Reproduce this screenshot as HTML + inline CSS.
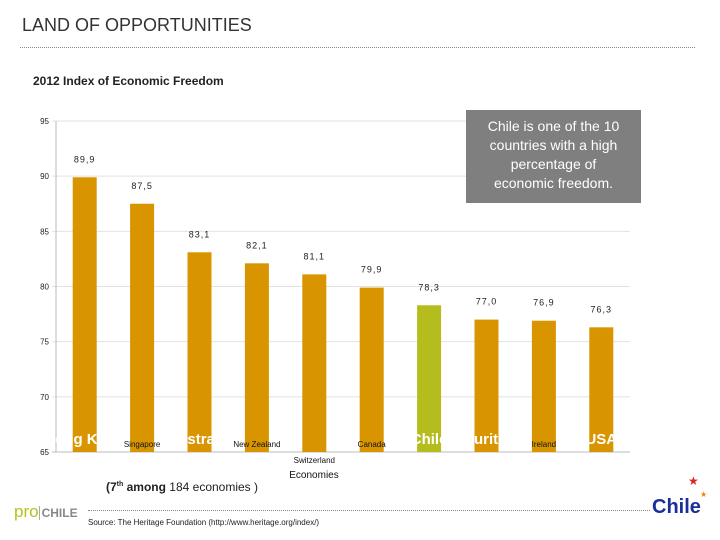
<!DOCTYPE html>
<html><head><meta charset="utf-8">
<style>
body{margin:0;background:#fff;}
#wrap{position:relative;width:720px;height:540px;overflow:hidden;font-family:"Liberation Sans",sans-serif;}
</style></head>
<body>
<div id="wrap">
<div style="position:absolute;left:22px;top:15px;font-size:18px;color:#333;">LAND OF OPPORTUNITIES</div>
<div style="position:absolute;left:20px;top:47px;width:675px;border-top:1px dotted #888;"></div>
<div style="position:absolute;left:33px;top:74px;font-size:12px;font-weight:bold;color:#222;">2012 Index of Economic Freedom</div>
<svg id="chart" width="720" height="540" style="position:absolute;left:0;top:0;"></svg>
<div style="position:absolute;left:466px;top:110px;width:175px;height:93px;background:#7f7f7f;color:#fff;font-size:14px;line-height:19px;text-align:center;padding-top:7px;box-sizing:border-box;">Chile is one of the 10<br>countries with a high<br>percentage of<br>economic freedom.</div>
<div style="position:absolute;left:106px;top:480px;font-size:12px;color:#222;"><b>(7<sup style="font-size:7px">th</sup> among</b> 184 economies )</div>
<div style="position:absolute;left:14px;top:502px;font-size:17px;"><span style="color:#b5c21a">pro</span><span style="color:#888;font-size:12px;font-weight:bold;border-left:1px solid #aaa;padding-left:2px">CHILE</span></div>
<div style="position:absolute;left:88px;top:510px;width:562px;border-top:1px dotted #888;"></div>
<div style="position:absolute;left:88px;top:518px;font-size:8px;color:#222;">Source:  The Heritage Foundation (http://www.heritage.org/index/)</div>
<div style="position:absolute;left:652px;top:496px;font-size:20px;font-weight:bold;color:#1a2f9a;">Chile</div>
<div style="position:absolute;left:688px;top:474px;font-size:12px;color:#d22;">★</div>
<div style="position:absolute;left:700px;top:490px;font-size:8px;color:#e80;">★</div>
</div>
<script>
const categories=["Hong Kong","Singapore","Australia","New Zealand","Switzerland","Canada","Chile","Mauritius","Ireland","USA"];
const values=[89.9,87.5,83.1,82.1,81.1,79.9,78.3,77.0,76.9,76.3];
const labels=["89,9","87,5","83,1","82,1","81,1","79,9","78,3","77,0","76,9","76,3"];
const yTicks=[65,70,75,80,85,90,95];
const bigWhite=[true,false,true,false,false,false,true,true,false,true];
const NS="http://www.w3.org/2000/svg";
const svg=document.getElementById('chart');
const x0=56,x1=630,yTop=121,yBot=452,vMin=65,vMax=95;
const bw=(x1-x0)/categories.length;
function y(v){return yBot-(v-vMin)/(vMax-vMin)*(yBot-yTop);}
function xc(i){return x0+bw*(i+0.5);}
function mk(t,a){const e=document.createElementNS(NS,t);for(const k in a)e.setAttribute(k,a[k]);svg.appendChild(e);return e;}
yTicks.forEach(t=>{
 const g=mk('line',{x1:x0-4,x2:x1,y1:y(t),y2:y(t),stroke:t===65?'#bbb':'#e2e2e2'});
 
 
 const tx=mk('text',{x:x0-7,y:y(t)+3,'text-anchor':'end','font-size':8,fill:'#222'});
 tx.textContent=t;
 
 
});
const ax=mk('line',{x1:x0,x2:x0,y1:yTop,y2:yBot,stroke:'#bbb'});


categories.forEach((c,i)=>{
 const r=mk('rect',{x:xc(i)-12,y:y(values[i]),width:24,height:yBot-y(values[i]),fill:c==='Chile'?'#b5bd1e':'#d99500'});
 
 
 const l=mk('text',{x:xc(i),y:y(values[i])-15,'text-anchor':'middle','font-size':9,fill:'#222','letter-spacing':'1'});
 l.textContent=labels[i];
 
 
 let t;
 if(bigWhite[i]){t=mk('text',{x:xc(i),y:444,'text-anchor':'middle','font-size':15,'font-weight':'bold',fill:'#fff'});}
 else{t=mk('text',{x:xc(i),y:c==='Switzerland'?463:447,'text-anchor':'middle','font-size':8,fill:'#111'});}
 t.textContent=c;
 
 
});
const xt=mk('text',{x:314,y:478,'text-anchor':'middle','font-size':10,fill:'#111'});
xt.textContent='Economies';


</script>
</body></html>
